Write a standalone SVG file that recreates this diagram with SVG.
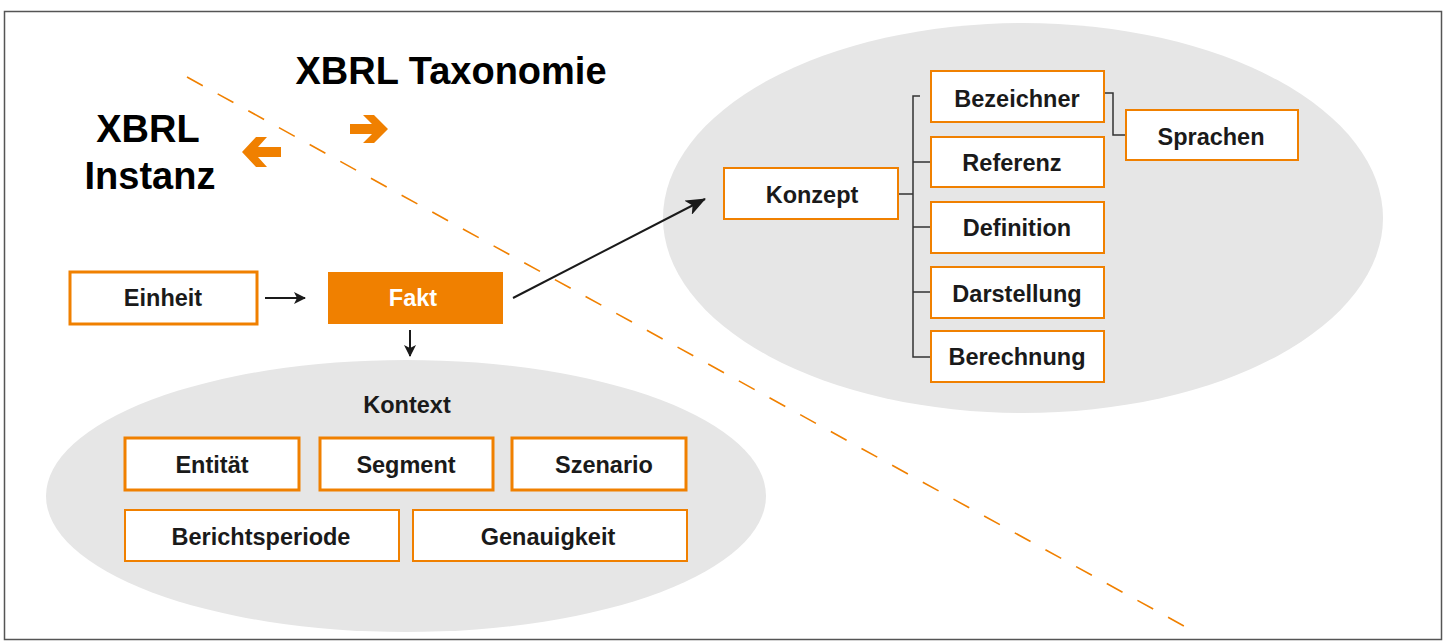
<svg xmlns="http://www.w3.org/2000/svg" width="1447" height="642" viewBox="0 0 1447 642">
<defs>
<style>
.t{font-family:"Liberation Sans",Arial,sans-serif;font-weight:bold;fill:#1a1a1a;text-anchor:middle}
.title{font-size:38px;fill:#000}
.lbl{font-size:23.5px}
.box{fill:#fff;stroke:#F08000;stroke-width:2}
.boxb{fill:#fff;stroke:#F08000;stroke-width:3}
.tree{fill:none;stroke:#333;stroke-width:1.5}
.arr{fill:none;stroke:#1a1a1a;stroke-width:2}
.oarr{fill:#F08000}
</style>
<marker id="ah" viewBox="0 0 12 12" refX="11" refY="6" markerWidth="12" markerHeight="12" orient="auto" markerUnits="userSpaceOnUse">
<path d="M0,0 L12,6 L0,12 L3,6 z" fill="#1a1a1a"/>
</marker>
<marker id="ahl" viewBox="0 0 20 16" refX="19" refY="8" markerWidth="20" markerHeight="16" orient="auto" markerUnits="userSpaceOnUse">
<path d="M0,0 L20,8 L0,16 L5,8 z" fill="#1a1a1a"/>
</marker>
</defs>
<rect x="0" y="0" width="1447" height="642" fill="#fff"/>
<rect x="4.5" y="11.5" width="1437" height="628" fill="none" stroke="#555" stroke-width="1.5"/>

<ellipse cx="1023" cy="218" rx="360" ry="195" fill="#E6E6E6"/>
<ellipse cx="406" cy="496" rx="360" ry="136" fill="#E6E6E6"/>

<line x1="187" y1="77" x2="1193" y2="631" stroke="#F08000" stroke-width="1.6" stroke-dasharray="18,17"/>

<text class="t title" x="451" y="84">XBRL Taxonomie</text>
<text class="t title" x="148" y="142">XBRL</text>
<text class="t title" x="150" y="189">Instanz</text>
<polygon class="oarr" points="388,129 374,115 363,115 372,124 350,124 350,134 372,134 363,143 374,143"/>
<polygon class="oarr" points="242,152 256,137 267,137 258,147 281,147 281,157 258,157 267,167 256,167"/>

<g id="connectors">
<line class="arr" x1="265" y1="298" x2="305" y2="298" marker-end="url(#ah)"/>
<line class="arr" x1="410" y1="330" x2="410" y2="356" marker-end="url(#ah)"/>
<line class="arr" x1="513" y1="298" x2="705" y2="199" stroke-width="2.5" marker-end="url(#ahl)"/>
<path class="tree" d="M898,194 H913 M920,96 H913 V357 H930 M913,162 H930 M913,227 H930 M913,292 H930"/>
<path class="tree" d="M1104,93 H1113 V135 H1125"/>
</g>

<g id="einheit"><rect class="boxb" x="70" y="272" width="187" height="52"/><text class="t lbl" x="163" y="306">Einheit</text></g>
<g id="fakt"><rect x="328" y="272" width="175" height="52" fill="#F08000"/><text class="t lbl" x="413" y="306" style="fill:#fff">Fakt</text></g>

<g id="konzept"><rect class="box" x="724" y="168" width="174" height="51"/><text class="t lbl" x="812" y="203">Konzept</text></g>
<g id="bezeichner"><rect class="box" x="931" y="71" width="173" height="51"/><text class="t lbl" x="1017" y="107">Bezeichner</text></g>
<g id="referenz"><rect class="box" x="931" y="137" width="173" height="50"/><text class="t lbl" x="1012" y="171">Referenz</text></g>
<g id="definition"><rect class="box" x="931" y="202" width="173" height="51"/><text class="t lbl" x="1017" y="236">Definition</text></g>
<g id="darstellung"><rect class="box" x="931" y="267" width="173" height="51"/><text class="t lbl" x="1017" y="302">Darstellung</text></g>
<g id="berechnung"><rect class="box" x="931" y="331" width="173" height="51"/><text class="t lbl" x="1017" y="365">Berechnung</text></g>
<g id="sprachen"><rect class="box" x="1126" y="110" width="172" height="50"/><text class="t lbl" x="1211" y="145">Sprachen</text></g>

<g id="kontext"><text class="t lbl" x="407" y="413">Kontext</text></g>
<g id="entitaet"><rect class="boxb" x="125" y="438" width="174" height="52"/><text class="t lbl" x="212" y="473">Entität</text></g>
<g id="segment"><rect class="boxb" x="320" y="438" width="173" height="52"/><text class="t lbl" x="406" y="473">Segment</text></g>
<g id="szenario"><rect class="boxb" x="512" y="438" width="174" height="52"/><text class="t lbl" x="604" y="473">Szenario</text></g>
<g id="berichtsperiode"><rect class="box" x="125" y="510" width="274" height="51"/><text class="t lbl" x="261" y="545">Berichtsperiode</text></g>
<g id="genauigkeit"><rect class="box" x="413" y="510" width="274" height="51"/><text class="t lbl" x="548" y="545">Genauigkeit</text></g>
</svg>
